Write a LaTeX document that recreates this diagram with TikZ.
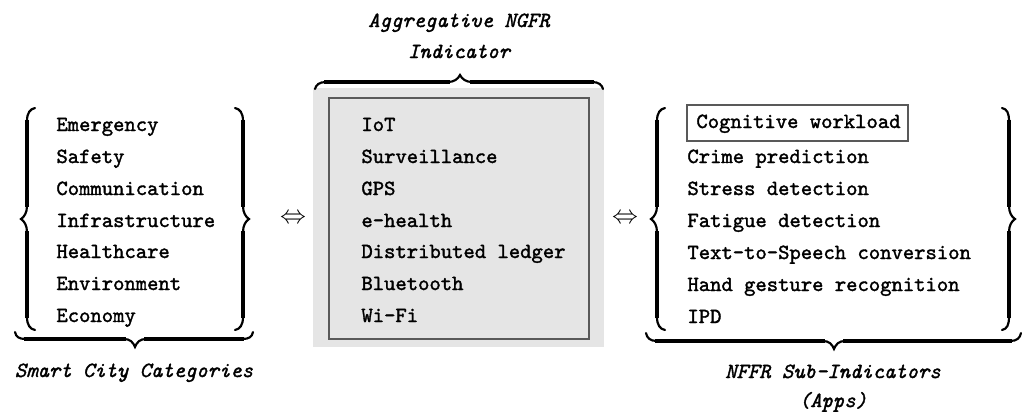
\documentclass[tikz,border=0pt]{standalone}
\usepackage{fontspec}
\newfontfamily\tttext{lmmono10-regular.otf}[FakeBold=1.6]
\newfontfamily\ttital{lmmono10-italic.otf}[FakeBold=1.6]
\begin{document}
\begin{tikzpicture}[x=0.463pt,y=-0.463pt,
  item/.style={anchor=base west,inner sep=0pt,font=\tttext},
  lab/.style={anchor=base,inner sep=0pt,font=\ttital},
  delim/.style={inner sep=0pt},
  arrowsym/.style={inner sep=0pt,scale=1.2},
  bracethin/.style={line width=1.0pt,line cap=round},
  bracebar/.style={line width=1.8pt},
  bracestem/.style={line width=1.4pt},
  frameline/.style={draw=black!65,line width=0.6pt}]
\useasboundingbox (0,0) rectangle (1022,415);
% ---------- left group ----------
\draw[bracethin] (35,108) .. controls (30,109) and (27,113) .. (27,121) -- (27,206) .. controls (27,213) and (24,217) .. (21,219) .. controls (24,221) and (27,225) .. (27,232) -- (27,317) .. controls (27,325) and (30,329) .. (35,330);
\draw[bracestem] (27,120) -- (27,207) (27,231) -- (27,318);
\draw[bracethin] (235,108) .. controls (240,109) and (243,113) .. (243,121) -- (243,206) .. controls (243,213) and (246,217) .. (249,219) .. controls (246,221) and (243,225) .. (243,232) -- (243,317) .. controls (243,325) and (240,329) .. (235,330);
\draw[bracestem] (243,120) -- (243,207) (243,231) -- (243,318);
\node[item] (c1) at (56,131) {Emergency};
\node[item] (c2) at (56,163) {Safety};
\node[item] (c3) at (56,195) {Communication};
\node[item] (c4) at (56,227) {Infrastructure};
\node[item] (c5) at (56,258) {Healthcare};
\node[item] (c6) at (56,290) {Environment};
\node[item] (c7) at (56,322) {Economy};
\draw[bracethin] (15,332) .. controls (16,337) and (19,339) .. (26,339) -- (124,339) .. controls (130,339) and (133,342) .. (135,347) .. controls (137,342) and (140,339) .. (146,339) -- (242,339) .. controls (249,339) and (252,337) .. (253,332);
\draw[bracebar] (24,339) -- (126,339) (144,339) -- (244,339);
\node[lab] (llab) at (134,377) {Smart City Categories};
% ---------- arrows ----------
\node[arrowsym] (arr1) at (293,219) {$\Leftrightarrow$};
\node[arrowsym] (arr2) at (625,219) {$\Leftrightarrow$};
% ---------- middle group ----------
\fill[black!10] (313,88) rectangle (604,347);
\draw[frameline] (329,98) rectangle (589,339);
\node[item] (m1) at (361,131) {IoT};
\node[item] (m2) at (361,163) {Surveillance};
\node[item] (m3) at (361,195) {GPS};
\node[item] (m4) at (361,227) {e-health};
\node[item] (m5) at (361,258) {Distributed ledger};
\node[item] (m6) at (361,290) {Bluetooth};
\node[item] (m7) at (361,322) {Wi-Fi};
\draw[bracethin] (315,89) .. controls (316,85) and (319,82) .. (326,82) -- (448,82) .. controls (454,82) and (458,79) .. (460,75) .. controls (462,79) and (466,82) .. (472,82) -- (592,82) .. controls (599,82) and (602,85) .. (603,89);
\draw[bracebar] (324,82) -- (450,82) (470,82) -- (594,82);
\node[lab] (mlab1) at (459,27) {Aggregative NGFR};
\node[lab] (mlab2) at (459,58) {Indicator};
% ---------- right group ----------
\draw[bracethin] (665,108) .. controls (660,109) and (657,113) .. (657,121) -- (657,206) .. controls (657,213) and (654,217) .. (651,219) .. controls (654,221) and (657,225) .. (657,232) -- (657,317) .. controls (657,325) and (660,329) .. (665,330);
\draw[bracestem] (657,120) -- (657,207) (657,231) -- (657,318);
\draw[bracethin] (1002,108) .. controls (1007,109) and (1009,113) .. (1009,121) -- (1009,206) .. controls (1009,213) and (1012,217) .. (1015,219) .. controls (1012,221) and (1009,225) .. (1009,232) -- (1009,317) .. controls (1009,325) and (1007,329) .. (1002,330);
\draw[bracestem] (1009,120) -- (1009,207) (1009,231) -- (1009,318);
\draw[frameline] (687,105) rectangle (908,141);
\node[item] (r1) at (696,128) {Cognitive workload};
\node[item] (r2) at (687,163) {Crime prediction};
\node[item] (r3) at (687,195) {Stress detection};
\node[item] (r4) at (687,227) {Fatigue detection};
\node[item] (r5) at (687,259) {Text-to-Speech conversion};
\node[item] (r6) at (687,291) {Hand gesture recognition};
\node[item] (r7) at (687,323) {IPD};
\draw[bracethin] (646,333) .. controls (647,338) and (650,341) .. (657,341) -- (823,341) .. controls (829,341) and (832,344) .. (834,349) .. controls (836,344) and (839,341) .. (845,341) -- (1010,341) .. controls (1017,341) and (1020,338) .. (1021,333);
\draw[bracebar] (655,341) -- (825,341) (843,341) -- (1012,341);
\node[lab] (rlab1) at (833,378) {NFFR Sub-Indicators};
\node[lab] (rlab2) at (833,407) {(Apps)};
\end{tikzpicture}
\end{document}
